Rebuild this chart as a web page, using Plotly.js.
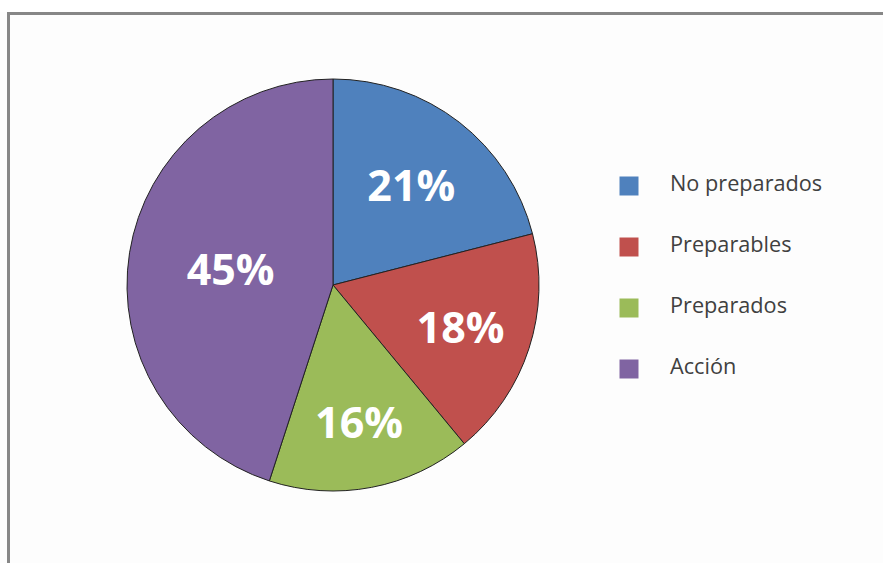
<!DOCTYPE html>
<html>
<head>
<meta charset="utf-8">
<script src="https://cdn.plot.ly/plotly-3.0.1.min.js"></script>
<style>html,body{margin:0;padding:0;background:#fff;}#chart{width:883px;height:563px;}</style>
</head>
<body>
<div id="chart"></div>
<script>
const categories = ["No preparados", "Preparables", "Preparados", "Acción"];
const values = [21, 18, 16, 45];
const colors = ["#4F81BD", "#C0504D", "#9BBB59", "#8064A2"];
const legendPos = [3, 2, 1, 0];

const W = 883, H = 563;
const cx = 333, cy = 285, r = 206;

const pie = {
  type: "pie",
  labels: categories,
  values: values,
  sort: false,
  direction: "clockwise",
  rotation: 0,
  marker: {colors: colors, line: {color: "#222222", width: 1}},
  textinfo: "percent",
  texttemplate: "%{value}%",
  textposition: "inside",
  insidetextorientation: "horizontal",
  textfont: {family: "Open Sans", size: 43, color: "#ffffff", weight: "bold"},
  hoverinfo: "label+percent",
  showlegend: false,
  domain: {x: [(cx - r) / W, (cx + r) / W], y: [1 - (cy + r) / H, 1 - (cy - r) / H]}
};

const legMarkers = {
  type: "scatter", mode: "markers",
  x: categories.map(() => 0), y: legendPos,
  marker: {symbol: "square", size: 19, color: colors},
  cliponaxis: false,
  xaxis: "x", yaxis: "y", showlegend: false, hoverinfo: "skip"
};
const legText = {
  type: "scatter", mode: "text",
  x: categories.map(() => 1), y: legendPos,
  text: categories, textposition: "middle right",
  textfont: {family: "Open Sans", size: 21.7, color: "#404040"},
  cliponaxis: false,
  xaxis: "x", yaxis: "y", showlegend: false, hoverinfo: "skip"
};

const layout = {
  width: W, height: H,
  margin: {l: 0, r: 0, t: 0, b: 0},
  paper_bgcolor: "#fdfdfd",
  plot_bgcolor: "rgba(0,0,0,0)",
  showlegend: false,
  xaxis: {domain: [629 / W, 670 / W], range: [0, 1], visible: false, fixedrange: true},
  yaxis: {domain: [1 - 369 / H, 1 - 186 / H], range: [0, 3], visible: false, fixedrange: true},
  shapes: [{
    type: "rect", xref: "paper", yref: "paper",
    x0: 8.5 / W, x1: 1.05, y0: -0.05, y1: 1 - 13.5 / H,
    line: {color: "#878787", width: 3}, fillcolor: "rgba(0,0,0,0)", layer: "above"
  }, {
    type: "rect", xref: "paper", yref: "paper",
    x0: 0, x1: 1, y0: 1 - 12 / H, y1: 1,
    line: {width: 0}, fillcolor: "#ffffff", layer: "below"
  }]
};

Plotly.newPlot("chart", [pie, legMarkers, legText], layout, {displayModeBar: false, staticPlot: true});
</script>
</body>
</html>
